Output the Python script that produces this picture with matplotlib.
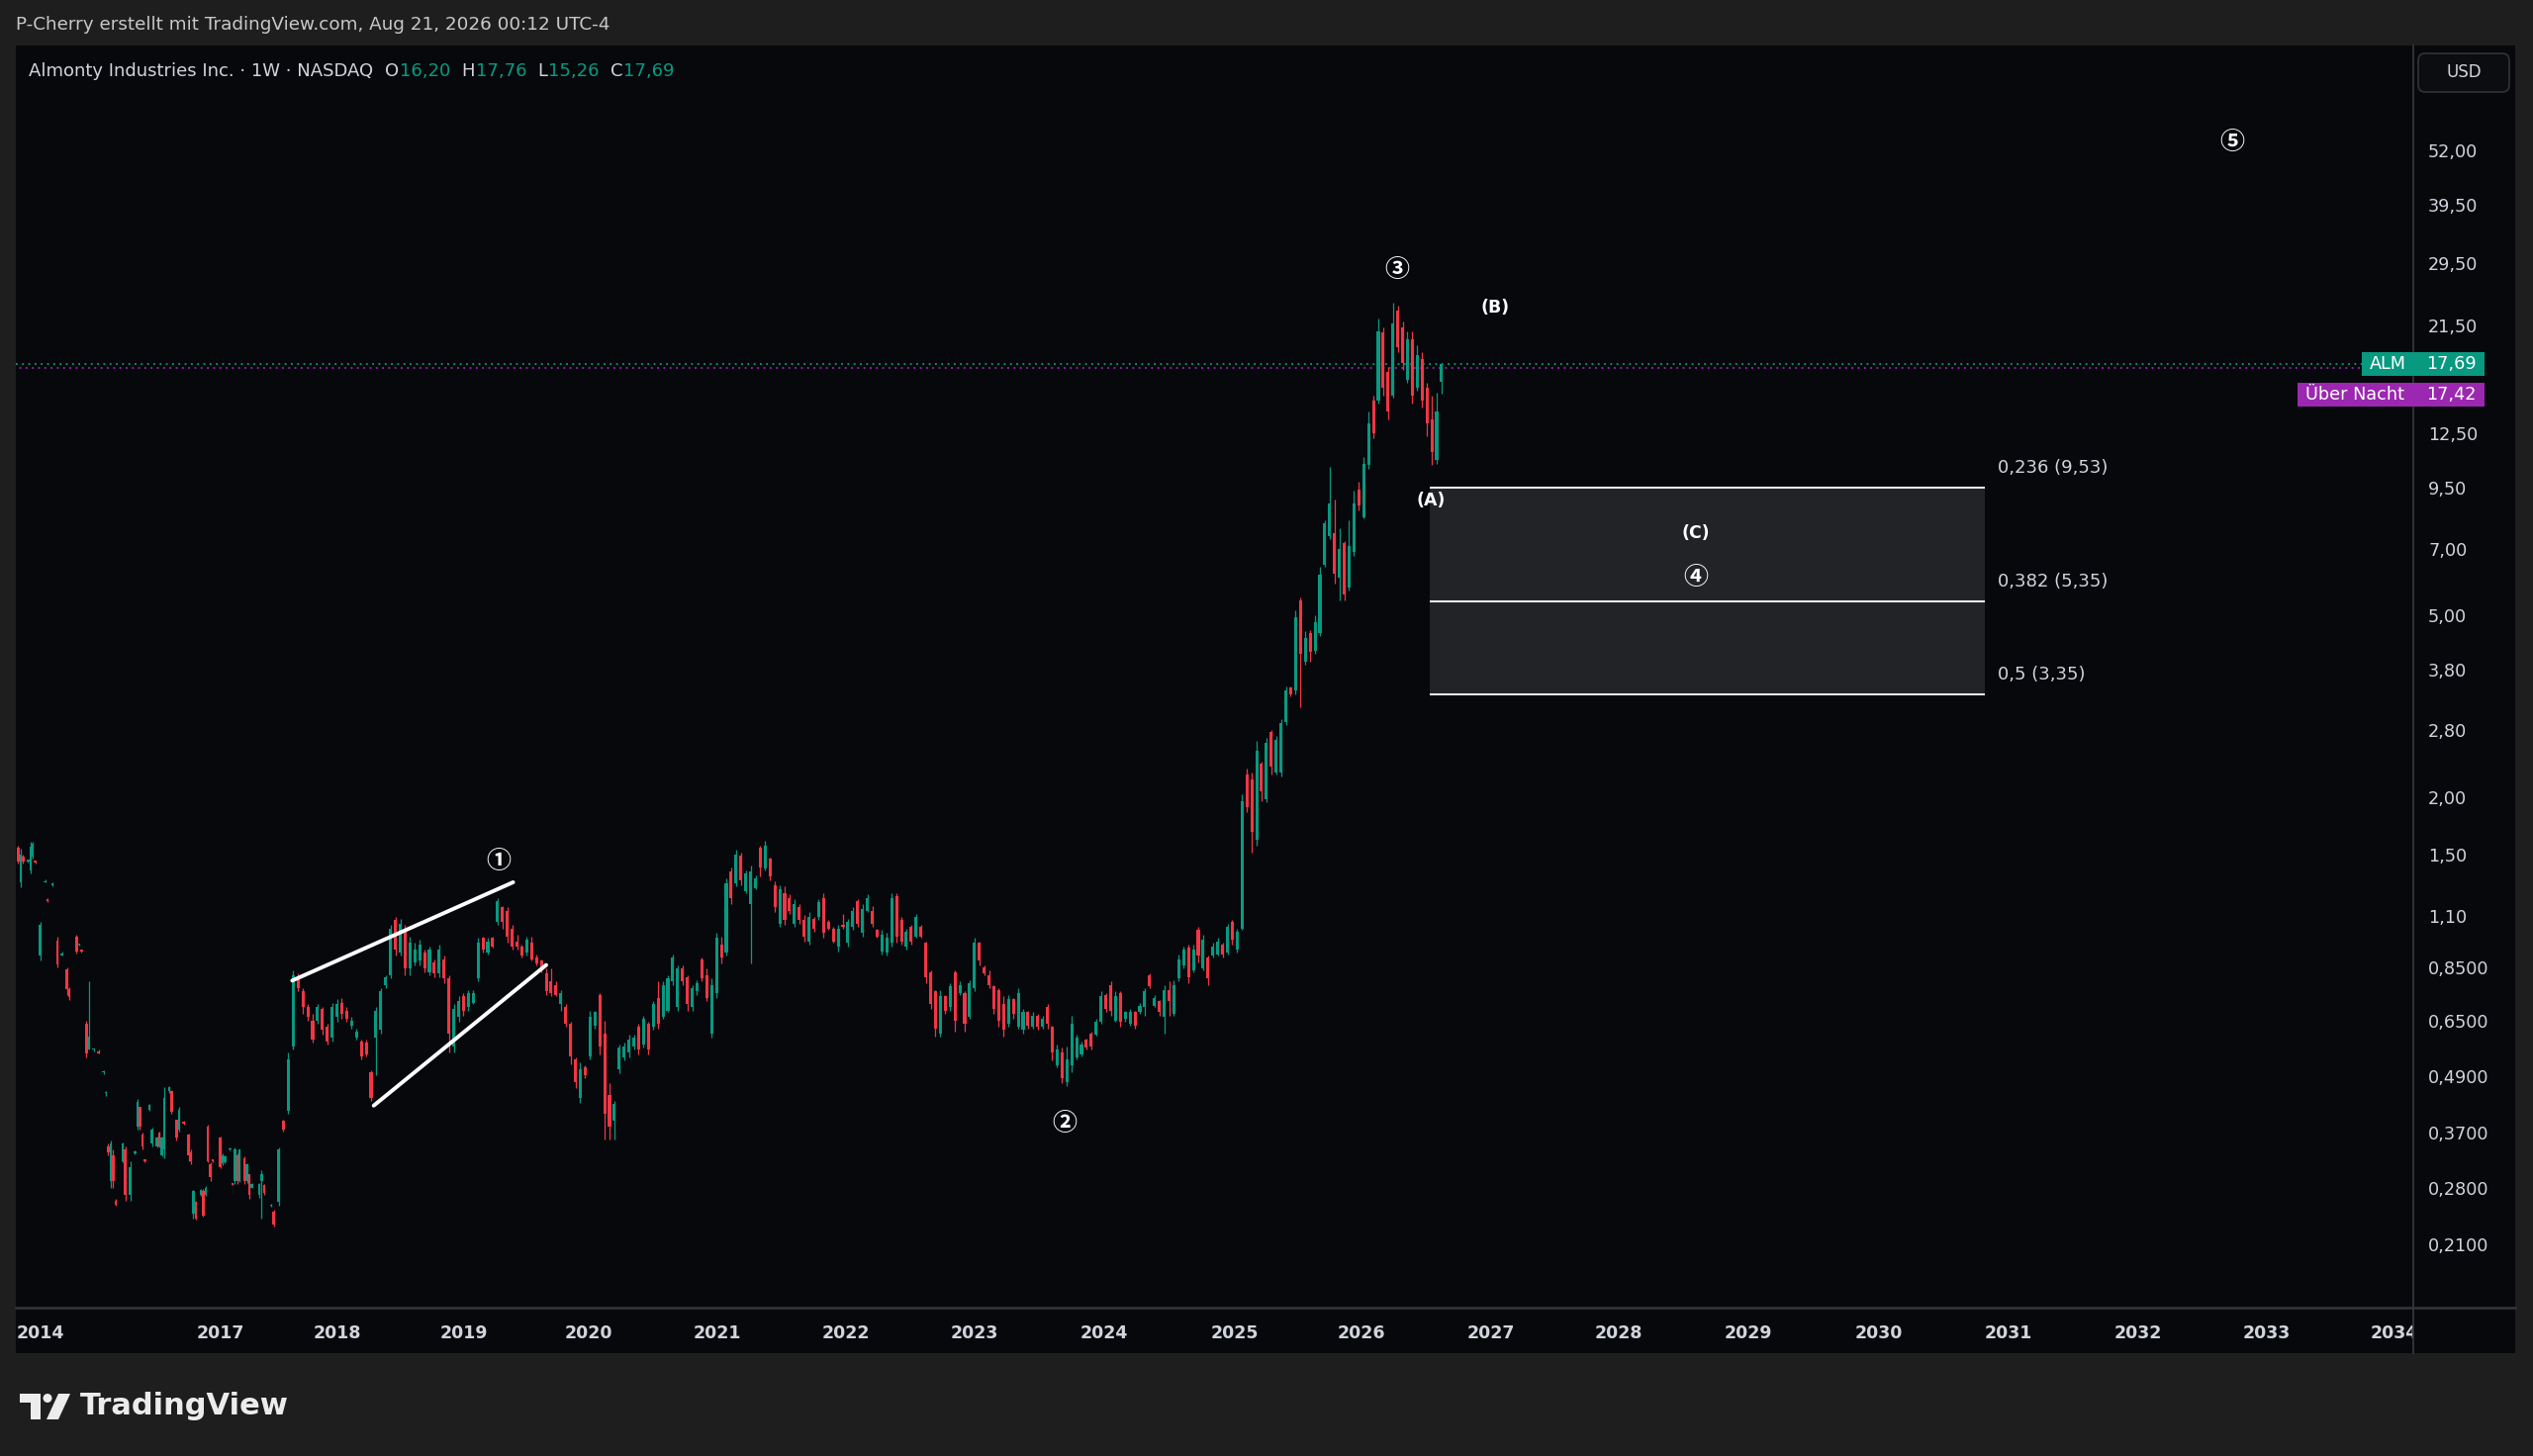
import numpy as np
import matplotlib
matplotlib.use("Agg")
import matplotlib.pyplot as plt
import matplotlib.transforms as mtrans
from matplotlib.patches import Rectangle, FancyBboxPatch, Circle, Polygon
from matplotlib.lines import Line2D
from matplotlib.ticker import NullLocator

# ---------------------------------------------------------------- data
# early, thinly traded weeks (bar index = week number on the TradingView axis)
early_week = [1, 2, 3, 5, 6, 7, 8, 10, 12, 13, 15, 17, 19, 21, 22, 25, 26, 27, 29, 30,
              32, 34, 36, 37, 38, 39, 40, 41, 44, 45, 47, 49, 50, 51, 52, 53, 55, 56, 58, 59,
              60, 61, 63, 64, 66, 67, 69, 71, 72, 73, 74, 76, 77, 78, 79, 80, 81, 84, 85, 86,
              88, 89, 90, 91, 92, 94, 95, 96, 97, 100, 101, 102, 105, 106, 108]
early_open = [1.55, 1.30, 1.48, 1.45, 1.38, 1.48, 1.445, 0.90, 1.30, 1.19, 1.285, 0.97, 0.90, 0.84, 0.76, 0.99, 0.95, 0.925, 0.64, 0.56,
              0.56, 0.555, 0.50, 0.45, 0.345, 0.29, 0.33, 0.262, 0.32, 0.34, 0.27, 0.333, 0.38, 0.42, 0.365, 0.321, 0.415, 0.35, 0.345, 0.37,
              0.33, 0.34, 0.455, 0.455, 0.395, 0.375, 0.39, 0.365, 0.335, 0.245, 0.26, 0.27, 0.275, 0.27, 0.38, 0.315, 0.321, 0.36, 0.316, 0.318,
              0.339, 0.285, 0.29, 0.33, 0.29, 0.325, 0.29, 0.30, 0.28, 0.27, 0.29, 0.283, 0.255, 0.248, 0.26]
early_high = [1.57, 1.54, 1.50, 1.46, 1.60, 1.60, 1.45, 1.07, 1.32, 1.20, 1.30, 0.99, 0.92, 0.85, 0.77, 1.00, 0.955, 0.93, 0.65, 0.79,
              0.565, 0.56, 0.505, 0.455, 0.35, 0.355, 0.34, 0.264, 0.352, 0.345, 0.32, 0.337, 0.437, 0.42, 0.37, 0.323, 0.427, 0.378, 0.362, 0.372,
              0.362, 0.465, 0.467, 0.457, 0.395, 0.42, 0.392, 0.367, 0.34, 0.277, 0.262, 0.278, 0.278, 0.282, 0.385, 0.318, 0.323, 0.362, 0.332, 0.33,
              0.342, 0.287, 0.342, 0.332, 0.34, 0.327, 0.316, 0.30, 0.287, 0.286, 0.305, 0.285, 0.258, 0.25, 0.342]
early_low = [1.43, 1.27, 1.43, 1.44, 1.36, 1.47, 1.43, 0.88, 1.30, 1.18, 1.28, 0.85, 0.90, 0.74, 0.72, 0.91, 0.945, 0.915, 0.54, 0.56,
             0.555, 0.55, 0.495, 0.445, 0.33, 0.28, 0.28, 0.255, 0.318, 0.262, 0.262, 0.331, 0.375, 0.375, 0.34, 0.318, 0.413, 0.345, 0.343, 0.343,
             0.328, 0.325, 0.45, 0.405, 0.355, 0.372, 0.385, 0.32, 0.315, 0.24, 0.238, 0.268, 0.242, 0.269, 0.318, 0.29, 0.318, 0.308, 0.314, 0.317,
             0.338, 0.283, 0.285, 0.285, 0.288, 0.285, 0.287, 0.265, 0.279, 0.266, 0.24, 0.27, 0.254, 0.23, 0.256]
early_close = [1.45, 1.50, 1.45, 1.455, 1.56, 1.58, 1.44, 1.05, 1.31, 1.185, 1.29, 0.86, 0.91, 0.76, 0.73, 0.92, 0.95, 0.92, 0.55, 0.60,
               0.56, 0.55, 0.50, 0.45, 0.335, 0.35, 0.29, 0.257, 0.35, 0.27, 0.31, 0.335, 0.43, 0.38, 0.345, 0.32, 0.425, 0.375, 0.36, 0.345,
               0.36, 0.44, 0.465, 0.41, 0.36, 0.415, 0.386, 0.33, 0.32, 0.275, 0.24, 0.276, 0.243, 0.28, 0.32, 0.295, 0.32, 0.31, 0.33, 0.328,
               0.34, 0.284, 0.34, 0.29, 0.34, 0.29, 0.315, 0.27, 0.285, 0.285, 0.30, 0.272, 0.257, 0.232, 0.34]

last_week = 586
dense_step = 2
dense_open = [
    0.392, 0.412, 0.571, 0.809, 0.752, 0.694, 0.650, 0.650, 0.688, 0.629,
    0.595, 0.661, 0.711, 0.683, 0.634, 0.595, 0.585, 0.580, 0.501, 0.595,
    0.619, 0.777, 0.815, 1.076, 0.914, 1.033, 0.843, 0.871, 0.878, 0.914,
    0.829, 0.871, 0.822, 0.885, 0.803, 0.571, 0.661, 0.734, 0.694, 0.711,
    0.803, 0.984, 0.914, 0.984, 1.067, 1.148, 1.130, 1.033, 0.968, 0.944,
    0.914, 0.960, 0.892, 0.878, 0.822, 0.790, 0.777, 0.705, 0.694, 0.639,
    0.535, 0.440, 0.514, 0.543, 0.634, 0.740, 0.609, 0.447, 0.392, 0.509,
    0.539, 0.552, 0.571, 0.629, 0.576, 0.639, 0.629, 0.729, 0.661, 0.683,
    0.790, 0.694, 0.843, 0.809, 0.694, 0.752, 0.885, 0.815, 0.609, 0.746,
    0.952, 0.914, 1.373, 1.297, 1.489, 1.246, 1.167, 1.266, 1.551, 1.395,
    1.465, 1.286, 1.059, 1.236, 1.205, 1.059, 1.148, 1.076, 0.968, 1.085,
    1.093, 1.205, 1.067, 1.033, 0.944, 1.050, 0.960, 1.041, 1.186, 1.008,
    1.130, 1.130, 1.025, 0.921, 0.914, 0.960, 1.215, 1.076, 0.944, 1.041,
    0.992, 1.041, 0.960, 0.829, 0.752, 0.609, 0.734, 0.694, 0.829, 0.746,
    0.746, 0.661, 0.765, 0.960, 0.850, 0.815, 0.771, 0.758, 0.705, 0.639,
    0.723, 0.629, 0.619, 0.677, 0.629, 0.666, 0.629, 0.694, 0.629, 0.518,
    0.552, 0.477, 0.518, 0.539, 0.548, 0.590, 0.609, 0.604, 0.645, 0.740,
    0.777, 0.650, 0.746, 0.656, 0.639, 0.677, 0.677, 0.694, 0.815, 0.700,
    0.717, 0.661, 0.758, 0.672, 0.803, 0.857, 0.936, 0.836, 1.025, 0.843,
    0.892, 0.899, 0.907, 0.952, 0.914, 1.067, 0.928, 1.033, 2.24, 2.19,
    1.616, 2.37, 1.98, 2.78, 2.27, 2.27, 2.92, 3.47, 3.42, 5.38,
    3.95, 4.57, 4.18, 4.57, 6.44, 7.45, 7.57, 6.03, 7.21, 5.75,
    6.87, 9.43, 8.21, 10.65, 14.74, 14.74, 20.75, 17.07, 15.11, 23.2,
    21.27, 16.39, 20.09, 15.74, 18.22, 15.74, 13.38, 10.92, 16.20]
dense_high = [
    0.395, 0.552, 0.836, 0.822, 0.765, 0.705, 0.672, 0.705, 0.694, 0.639,
    0.711, 0.723, 0.729, 0.694, 0.661, 0.624, 0.590, 0.590, 0.505, 0.694,
    0.765, 0.815, 1.050, 1.093, 1.085, 1.050, 0.992, 0.960, 0.976, 0.928,
    0.944, 0.885, 0.952, 0.899, 0.815, 0.705, 0.734, 0.746, 0.758, 0.758,
    0.984, 0.992, 0.984, 0.992, 1.205, 1.158, 1.148, 1.050, 1.000, 0.952,
    0.992, 0.992, 0.907, 0.885, 0.843, 0.843, 0.790, 0.758, 0.705, 0.645,
    0.539, 0.526, 0.518, 0.683, 0.683, 0.746, 0.650, 0.473, 0.433, 0.576,
    0.580, 0.604, 0.604, 0.639, 0.666, 0.645, 0.717, 0.790, 0.790, 0.815,
    0.907, 0.857, 0.857, 0.815, 0.777, 0.796, 0.892, 0.843, 0.803, 1.008,
    0.992, 1.329, 1.407, 1.538, 1.513, 1.384, 1.418, 1.351, 1.563, 1.603,
    1.477, 1.307, 1.286, 1.276, 1.225, 1.196, 1.167, 1.103, 1.121, 1.093,
    1.196, 1.236, 1.076, 1.041, 1.050, 1.112, 1.085, 1.148, 1.196, 1.167,
    1.225, 1.158, 1.030, 1.025, 1.008, 1.236, 1.236, 1.093, 1.033, 1.050,
    1.112, 1.050, 0.968, 0.836, 0.758, 0.758, 0.740, 0.783, 0.836, 0.790,
    0.752, 0.796, 0.984, 0.968, 0.857, 0.836, 0.777, 0.765, 0.734, 0.740,
    0.729, 0.765, 0.688, 0.683, 0.677, 0.672, 0.666, 0.705, 0.634, 0.576,
    0.566, 0.571, 0.666, 0.604, 0.585, 0.592, 0.614, 0.656, 0.752, 0.746,
    0.790, 0.752, 0.752, 0.683, 0.688, 0.683, 0.711, 0.765, 0.822, 0.740,
    0.720, 0.777, 0.790, 0.796, 0.907, 0.944, 0.952, 0.952, 1.041, 1.000,
    0.899, 0.960, 0.984, 0.960, 1.059, 1.076, 1.033, 2.03, 2.31, 2.27,
    2.65, 2.39, 2.70, 2.80, 2.72, 2.97, 3.50, 3.50, 5.12, 5.47,
    4.61, 4.65, 5.00, 6.39, 8.08, 10.56, 8.98, 7.76, 7.27, 8.08,
    9.35, 9.82, 11.10, 13.93, 15.11, 22.33, 21.27, 17.50, 24.2, 23.8,
    21.97, 20.92, 20.92, 19.45, 18.82, 16.13, 15.11, 15.36, 17.76]
dense_low = [
    0.371, 0.406, 0.561, 0.752, 0.672, 0.650, 0.580, 0.639, 0.604, 0.576,
    0.585, 0.645, 0.656, 0.645, 0.624, 0.590, 0.535, 0.543, 0.433, 0.493,
    0.609, 0.765, 0.803, 0.899, 0.899, 0.815, 0.815, 0.857, 0.857, 0.829,
    0.815, 0.809, 0.809, 0.783, 0.552, 0.552, 0.645, 0.666, 0.683, 0.705,
    0.790, 0.914, 0.907, 0.936, 1.050, 1.033, 0.960, 0.928, 0.928, 0.892,
    0.899, 0.878, 0.857, 0.829, 0.740, 0.734, 0.734, 0.683, 0.629, 0.522,
    0.462, 0.429, 0.485, 0.535, 0.624, 0.548, 0.356, 0.356, 0.356, 0.497,
    0.531, 0.539, 0.561, 0.548, 0.566, 0.548, 0.619, 0.624, 0.656, 0.677,
    0.777, 0.683, 0.777, 0.683, 0.683, 0.740, 0.790, 0.717, 0.595, 0.729,
    0.864, 0.899, 1.167, 1.276, 1.286, 1.236, 0.864, 1.256, 1.340, 1.384,
    1.318, 1.121, 1.041, 1.050, 1.112, 1.041, 1.059, 0.968, 0.952, 1.016,
    1.076, 0.984, 1.025, 0.960, 0.921, 1.033, 0.944, 1.025, 1.041, 0.992,
    1.121, 1.041, 0.984, 0.907, 0.899, 0.944, 0.960, 0.952, 0.928, 0.952,
    0.984, 0.984, 0.783, 0.688, 0.600, 0.600, 0.672, 0.683, 0.614, 0.740,
    0.614, 0.656, 0.752, 0.857, 0.815, 0.765, 0.672, 0.629, 0.600, 0.629,
    0.656, 0.624, 0.609, 0.624, 0.624, 0.619, 0.624, 0.624, 0.531, 0.514,
    0.473, 0.466, 0.501, 0.535, 0.543, 0.561, 0.561, 0.602, 0.639, 0.677,
    0.666, 0.645, 0.629, 0.645, 0.634, 0.624, 0.672, 0.666, 0.765, 0.694,
    0.666, 0.609, 0.666, 0.666, 0.790, 0.843, 0.783, 0.829, 0.871, 0.836,
    0.777, 0.892, 0.899, 0.892, 0.907, 0.952, 0.914, 1.025, 1.855, 1.51,
    1.563, 1.96, 1.95, 2.24, 2.24, 2.22, 2.87, 3.33, 3.36, 3.15,
    3.89, 3.95, 4.11, 4.50, 6.39, 7.33, 5.88, 5.38, 5.38, 5.66,
    6.76, 8.48, 8.14, 10.48, 12.23, 14.51, 15.11, 13.38, 14.99, 18.82,
    17.21, 16.13, 14.51, 15.49, 14.27, 12.33, 10.65, 10.74, 15.26]
dense_close = [
    0.374, 0.535, 0.815, 0.765, 0.694, 0.661, 0.590, 0.694, 0.619, 0.585,
    0.694, 0.705, 0.672, 0.656, 0.650, 0.614, 0.543, 0.548, 0.440, 0.683,
    0.752, 0.809, 1.033, 0.928, 1.059, 0.843, 0.960, 0.928, 0.952, 0.843,
    0.928, 0.822, 0.928, 0.803, 0.609, 0.688, 0.717, 0.683, 0.746, 0.746,
    0.960, 0.928, 0.968, 0.944, 1.186, 1.067, 0.992, 0.944, 0.944, 0.899,
    0.976, 0.885, 0.864, 0.843, 0.752, 0.746, 0.740, 0.746, 0.639, 0.543,
    0.477, 0.509, 0.493, 0.661, 0.677, 0.571, 0.406, 0.380, 0.426, 0.566,
    0.571, 0.590, 0.595, 0.561, 0.656, 0.561, 0.705, 0.639, 0.777, 0.803,
    0.892, 0.843, 0.790, 0.705, 0.765, 0.783, 0.803, 0.729, 0.777, 0.984,
    0.892, 1.297, 1.205, 1.501, 1.318, 1.362, 1.373, 1.329, 1.407, 1.563,
    1.340, 1.148, 1.256, 1.076, 1.130, 1.167, 1.076, 0.992, 1.093, 1.033,
    1.177, 1.008, 1.033, 0.968, 1.033, 1.041, 1.067, 1.130, 1.059, 1.139,
    1.205, 1.059, 0.992, 1.000, 0.984, 1.205, 0.992, 0.968, 1.016, 0.968,
    1.093, 0.992, 0.809, 0.705, 0.624, 0.734, 0.683, 0.771, 0.650, 0.777,
    0.639, 0.783, 0.960, 0.878, 0.822, 0.777, 0.688, 0.650, 0.619, 0.723,
    0.672, 0.746, 0.677, 0.634, 0.666, 0.629, 0.656, 0.639, 0.552, 0.561,
    0.485, 0.535, 0.639, 0.595, 0.576, 0.566, 0.571, 0.645, 0.734, 0.688,
    0.683, 0.734, 0.645, 0.677, 0.677, 0.634, 0.700, 0.752, 0.771, 0.729,
    0.677, 0.758, 0.717, 0.777, 0.885, 0.928, 0.809, 0.928, 0.899, 0.976,
    0.803, 0.944, 0.968, 0.907, 1.041, 0.976, 1.016, 1.96, 1.90, 1.683,
    2.53, 2.06, 2.63, 2.33, 2.67, 2.90, 3.42, 3.36, 4.96, 4.11,
    4.46, 4.15, 4.84, 6.13, 7.95, 8.77, 6.18, 6.98, 5.56, 7.10,
    8.77, 8.70, 10.74, 13.16, 12.53, 20.92, 15.74, 13.93, 21.79, 19.29,
    17.78, 20.09, 15.11, 18.52, 14.74, 13.16, 11.37, 13.93, 17.69]

# time axis (bar index of each year label)
year_labels = ['2014', '2017', '2018', '2019', '2020', '2021', '2022', '2023', '2024', '2025',
               '2026', '2027', '2028', '2029', '2030', '2031', '2032', '2033', '2034']
year_weeks = [9.96, 84.3, 132.1, 184.0, 235.4, 288.2, 341.3, 394.1, 447.2, 501.0,
              553.1, 606.2, 658.7, 712.2, 765.9, 819.0, 872.2, 925.0, 977.4]

# price scale
price_ticks = [52.0, 39.5, 29.5, 21.5, 12.5, 9.5, 7.0, 5.0, 3.8, 2.8, 2.0, 1.5, 1.1,
               0.85, 0.65, 0.49, 0.37, 0.28, 0.21]
price_min, price_max = 0.1529, 88.2
week_min, week_max = 0.0, 985.4

# fibonacci retracement box
fib_levels = [9.53, 5.35, 3.35]
fib_labels = ['0,236 (9,53)', '0,382 (5,35)', '0,5 (3,35)']
fib_start_week, fib_end_week = 581.0, 809.4

# wedge trend lines
wedge_upper_week, wedge_upper_price = [113.6, 204.4], [0.794, 1.303]
wedge_lower_week, wedge_lower_price = [147.1, 218.0], [0.423, 0.859]

# Elliott wave labels
wave_text = ['\u2460', '\u2461', '\u2462', '\u2463', '\u2464']
wave_week = [198.5, 430.9, 567.7, 690.6, 911.0]
wave_price = [1.45, 0.386, 28.5, 6.03, 54.2]
abc_text = ['(A)', '(B)', '(C)']
abc_week = [581.7, 608.2, 690.6]
abc_price = [8.91, 23.6, 7.57]

last_close = 17.69
overnight_price = 17.42
ohlc_names = ['O', 'H', 'L', 'C']
ohlc_values = ['16,20', '17,76', '15,26', '17,69']

# ---------------------------------------------------------------- style
BG = '#07080c'
FRAME = '#1e1e1e'
UP = '#089981'
DOWN = '#f23645'
PURPLE = '#9c27b0'
TXT = '#d1d4dc'
SEP = '#35363b'
CIRC_FONT = ['Noto Sans CJK JP', 'DejaVu Sans']

W, H, DPI = 2560, 1472, 100
fig = plt.figure(figsize=(W / DPI, H / DPI), dpi=DPI)
fig.patch.set_facecolor(FRAME)
ID = mtrans.IdentityTransform()

PANEL_L, PANEL_R, PANEL_T, PANEL_B = 16, 2542, 46, 1368
PLOT_R, PLOT_B = 2439, 1322


def frac_box(l, t, r, b):
    return [l / W, 1 - b / H, (r - l) / W, (b - t) / H]


fig.add_artist(Rectangle((PANEL_L / W, 1 - PANEL_B / H), (PANEL_R - PANEL_L) / W,
                         (PANEL_B - PANEL_T) / H, transform=fig.transFigure,
                         fc=BG, ec='none', zorder=0))

# ---------------------------------------------------------------- main pane
ax = fig.add_axes(frac_box(PANEL_L, PANEL_T, PLOT_R, PLOT_B))
ax.set_zorder(1)
ax.set_facecolor(BG)
ax.set_yscale('log')
ax.set_ylim(price_min, price_max)
ax.set_xlim(week_min, week_max)
for s in ax.spines.values():
    s.set_visible(False)
ax.yaxis.set_major_locator(NullLocator())
ax.yaxis.set_minor_locator(NullLocator())
ax.tick_params(axis='y', which='both', left=False, labelleft=False)
ax.set_xticks(year_weeks, year_labels)
ax.xaxis.set_minor_locator(NullLocator())
ax.tick_params(axis='x', length=0, pad=12, labelcolor=TXT, labelsize=12.5)
for lbl in ax.get_xticklabels():
    lbl.set_fontweight('bold')

# candles
dense_week = list(range(last_week - dense_step * (len(dense_close) - 1), last_week + 1, dense_step))
weeks = np.array(early_week + dense_week, float)
o = np.array(early_open + dense_open)
h = np.array(early_high + dense_high)
l = np.array(early_low + dense_low)
c = np.array(early_close + dense_close)
widths = np.array([1.0] * len(early_week) + [1.25] * len(dense_week))
cols = np.where(c >= o, UP, DOWN)
top = np.maximum(o, c)
bot = np.minimum(o, c)
top = np.maximum(top, bot * 1.008)
ax.vlines(weeks, l, h, colors=cols, lw=0.9, zorder=3)
ax.bar(weeks, top - bot, bottom=bot, width=widths, color=cols, linewidth=0, zorder=3)

# fib box
ax.add_patch(Rectangle((fib_start_week, fib_levels[2]), fib_end_week - fib_start_week,
                       fib_levels[0] - fib_levels[2], fc='#222327', ec='none', zorder=1.5))
ax.hlines(fib_levels, fib_start_week, fib_end_week, colors='#e8e8e8', lw=1.5, zorder=2)
for lv, lab in zip(fib_levels, fib_labels):
    ax.annotate(lab, xy=(fib_end_week, lv), xytext=(13, 20), textcoords='offset pixels',
                ha='left', va='center', color=TXT, fontsize=13, zorder=6)

# wedge
ax.plot(wedge_upper_week, wedge_upper_price, color='white', lw=2.8, solid_capstyle='round', zorder=4)
ax.plot(wedge_lower_week, wedge_lower_price, color='white', lw=2.8, solid_capstyle='round', zorder=4)

# wave labels
for t, wk, pr in zip(wave_text, wave_week, wave_price):
    ax.text(wk, pr, t, ha='center', va='center', color='white', fontsize=18,
            family=CIRC_FONT, fontweight='bold', zorder=6)
for t, wk, pr in zip(abc_text, abc_week, abc_price):
    ax.text(wk, pr, t, ha='center', va='center', color='white', fontsize=12.5,
            fontweight='bold', zorder=6)

# price lines
ax.axhline(last_close, color=UP, lw=1.3, ls=(0, (1, 2.5)), zorder=2.5)
ax.axhline(overnight_price, color=PURPLE, lw=1.3, ls=(1.5, (1, 2.5)), zorder=2.5)

# ---------------------------------------------------------------- price scale
ax2 = fig.add_axes(frac_box(PLOT_R, PANEL_T, PANEL_R, PLOT_B))
ax2.set_zorder(2)
ax2.set_facecolor(BG)
ax2.set_yscale('log')
ax2.set_ylim(price_min, price_max)
ax2.set_xlim(0, 1)
for s in ax2.spines.values():
    s.set_visible(False)
ax2.set_xticks([])


def fmt_price(p):
    return (f'{p:.2f}' if p >= 1 else f'{p:.4f}').replace('.', ',')


ax2.set_yticks(price_ticks, [fmt_price(p) for p in price_ticks])
ax2.yaxis.set_minor_locator(NullLocator())
ax2.yaxis.set_ticks_position('left')
ax2.tick_params(axis='y', which='both', length=0, pad=-10.8, labelsize=12.7, labelcolor=TXT)
for lbl in ax2.get_yticklabels():
    lbl.set_ha('left')

# bottom-right corner cover
fig.add_artist(Rectangle((PLOT_R / W, 1 - PANEL_B / H), (PANEL_R - PLOT_R) / W,
                         (PANEL_B - PLOT_B) / H, transform=fig.transFigure,
                         fc=BG, ec='none', zorder=2.5))

# separators
fig.add_artist(Line2D([PLOT_R / W, PLOT_R / W], [1 - PANEL_T / H, 1 - PANEL_B / H],
                      transform=fig.transFigure, color=SEP, lw=1.3, zorder=5))
fig.add_artist(Line2D([PANEL_L / W, PANEL_R / W], [1 - PLOT_B / H, 1 - PLOT_B / H],
                      transform=fig.transFigure, color=SEP, lw=1.8, zorder=5))

# price labels on the scale
y_close = ax.transData.transform((0, last_close))[1]
y_over = ax.transData.transform((0, overnight_price))[1] - 27


def box_label(x0, x1, yc, text, fc, ha='center', hpad=0):
    fig.add_artist(Rectangle((x0, yc - 12), x1 - x0, 24, transform=ID, fc=fc, ec='none', zorder=6))
    xt = (x0 + x1) / 2 if ha == 'center' else x0 + hpad
    fig.text(xt, yc, text, transform=ID, ha=ha, va='center', color='white',
             fontsize=12.7, zorder=7)


box_label(2387, PLOT_R, y_close, 'ALM', UP)
box_label(PLOT_R, 2511, y_close, fmt_price(last_close), UP, ha='left', hpad=13)
box_label(2322, PLOT_R, y_over, '\u00dcber Nacht', PURPLE)
box_label(PLOT_R, 2511, y_over, fmt_price(overnight_price), PURPLE, ha='left', hpad=13)

# USD button
fig.add_artist(FancyBboxPatch((2444, H - 93), 92, 39, boxstyle='round,pad=0,rounding_size=7',
                              transform=ID, fc='#0c0d11', ec='#2f3035', lw=1.3, zorder=6))
fig.text(2490, H - 73.5, 'USD', transform=ID, ha='center', va='center', color=TXT,
         fontsize=12, zorder=7)

# ---------------------------------------------------------------- header / legend
fig.text(16 / W, 1 - 25 / H, 'P-Cherry erstellt mit TradingView.com, Aug 21, 2026 00:12 UTC-4',
         color='#c8c8c8', fontsize=13.2, va='center', ha='left')

renderer = fig.canvas.get_renderer()


def runs(x_px, y_px, parts, **kw):
    x = x_px
    for s, col, gap in parts:
        t = fig.text(x, H - y_px, s, transform=ID, color=col, va='center', ha='left', zorder=8, **kw)
        x += t.get_window_extent(renderer).width + gap


parts = [('Almonty Industries Inc. \u00b7 1W \u00b7 NASDAQ', TXT, 12)]
for nm, val in zip(ohlc_names, ohlc_values):
    parts.append((nm, TXT, 1))
    parts.append((val, UP, 11))
runs(29, 72, parts, fontsize=13)

# ---------------------------------------------------------------- TradingView logo
logo_c = '#ececec'
fig.add_artist(Polygon([(20, H - 1409), (41, H - 1409), (41, H - 1435), (31, H - 1435),
                        (31, H - 1418), (20, H - 1418)], closed=True, transform=ID,
                       fc=logo_c, ec='none', zorder=6))
fig.add_artist(Circle((48, H - 1413.5), 4.5, transform=ID, fc=logo_c, ec='none', zorder=6))
fig.add_artist(Polygon([(59, H - 1409), (71, H - 1409), (59, H - 1435), (47, H - 1435)],
                       closed=True, transform=ID, fc=logo_c, ec='none', zorder=6))
fig.text(81, H - 1422, 'TradingView', transform=ID, color=logo_c, fontsize=22,
         fontweight='bold', ha='left', va='center', zorder=6)

fig.savefig('out.png', dpi=DPI, facecolor=FRAME)
